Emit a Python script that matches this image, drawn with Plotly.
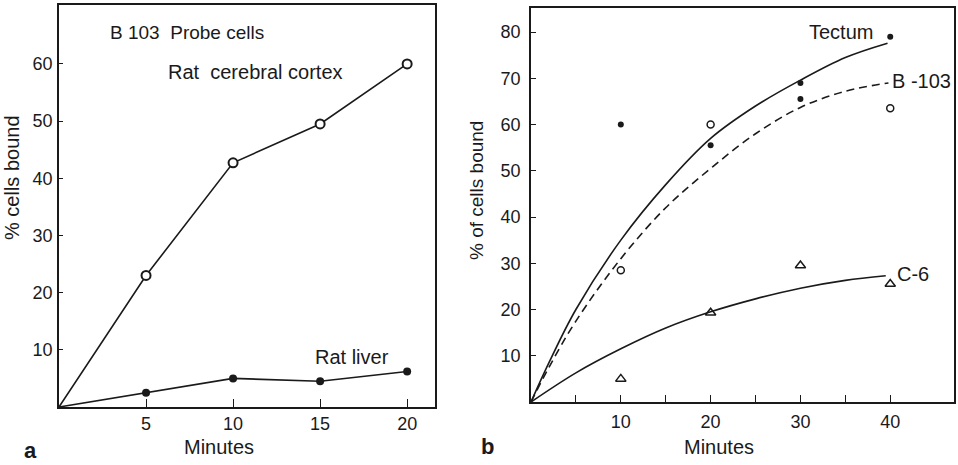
import plotly.graph_objects as go

# ---------------- Panel a data ----------------
a_minutes = [0, 5, 10, 15, 20]
a_cortex = [0, 23, 42.7, 49.5, 60]
a_liver = [0, 2.5, 5, 4.5, 6.2]
a_xticks = [5, 10, 15, 20]
a_yticks = [10, 20, 30, 40, 50, 60]

# ---------------- Panel b data ----------------
b_tectum_x = [10, 20, 30, 30, 40]
b_tectum_y = [60, 55.5, 69, 65.5, 79]
b_b103_x = [10, 20, 40]
b_b103_y = [28.5, 60, 63.5]
b_c6_x = [10, 20, 30, 40]
b_c6_y = [5, 19.3, 29.5, 25.5]

b_tectum_curve_x = [0, 2, 5, 10, 15, 20, 25, 30, 35, 39.7]
b_tectum_curve_y = [0, 8.5, 20, 35, 47, 57, 64, 69.6, 74.5, 77.6]
b_b103_curve_x = [0, 2, 5, 10, 15, 20, 25, 30, 35, 39.8]
b_b103_curve_y = [0, 7.5, 17.5, 31, 42, 50.5, 58, 63.7, 67.2, 69]
b_c6_curve_x = [0, 5, 10, 15, 20, 25, 30, 35, 39.5]
b_c6_curve_y = [0, 6.3, 11.5, 16, 19.5, 22.3, 24.6, 26.3, 27.3]

b_xticks = [5, 10, 15, 20, 25, 30, 35, 40]
b_xticktext = ["", "10", "", "20", "", "30", "", "40"]
b_yticks = [10, 20, 30, 40, 50, 60, 70, 80]

W, H = 958, 465
FONT = "Liberation Sans, Arial, sans-serif"
INK = "#1a1a1a"

def px(x):
    return x / W

def py(y):
    return 1 - y / H

fig = go.Figure()

# Panel a
fig.add_trace(go.Scatter(x=a_minutes, y=a_cortex, mode="lines",
                         line=dict(color=INK, width=1.6), xaxis="x", yaxis="y", showlegend=False))
fig.add_trace(go.Scatter(x=a_minutes[1:], y=a_cortex[1:], mode="markers",
                         marker=dict(symbol="circle", size=9, color="white",
                                     line=dict(color=INK, width=2)),
                         xaxis="x", yaxis="y", showlegend=False))
fig.add_trace(go.Scatter(x=a_minutes, y=a_liver, mode="lines",
                         line=dict(color=INK, width=1.6), xaxis="x", yaxis="y", showlegend=False))
fig.add_trace(go.Scatter(x=a_minutes[1:], y=a_liver[1:], mode="markers",
                         marker=dict(symbol="circle", size=8, color=INK),
                         xaxis="x", yaxis="y", showlegend=False))

# Panel b curves
fig.add_trace(go.Scatter(x=b_tectum_curve_x, y=b_tectum_curve_y, mode="lines",
                         line=dict(color=INK, width=1.6, shape="spline"),
                         xaxis="x2", yaxis="y2", showlegend=False))
fig.add_trace(go.Scatter(x=b_b103_curve_x, y=b_b103_curve_y, mode="lines",
                         line=dict(color=INK, width=1.6, shape="spline", dash="8px,5px"),
                         xaxis="x2", yaxis="y2", showlegend=False))
fig.add_trace(go.Scatter(x=b_c6_curve_x, y=b_c6_curve_y, mode="lines",
                         line=dict(color=INK, width=1.6, shape="spline"),
                         xaxis="x2", yaxis="y2", showlegend=False))
# Panel b points
fig.add_trace(go.Scatter(x=b_tectum_x, y=b_tectum_y, mode="markers",
                         marker=dict(symbol="circle", size=6, color=INK),
                         xaxis="x2", yaxis="y2", showlegend=False))
fig.add_trace(go.Scatter(x=b_b103_x, y=b_b103_y, mode="markers",
                         marker=dict(symbol="circle-open", size=7, color=INK, line=dict(width=1.5)),
                         xaxis="x2", yaxis="y2", showlegend=False))
fig.add_trace(go.Scatter(x=b_c6_x, y=b_c6_y, mode="markers",
                         marker=dict(symbol="triangle-up-open", size=9, color=INK, line=dict(width=1.5)),
                         xaxis="x2", yaxis="y2", showlegend=False))

axis_common = dict(showline=True, linecolor=INK, linewidth=1.5, mirror=True,
                   ticks="inside", tickcolor=INK, tickwidth=1.3,
                   showgrid=False, zeroline=False,
                   tickfont=dict(family=FONT, size=18, color=INK))

fig.update_layout(
    width=W, height=H,
    margin=dict(l=0, r=0, t=0, b=0),
    paper_bgcolor="white", plot_bgcolor="white",
    xaxis=dict(axis_common, domain=[px(59), px(435)], range=[0, 21.6],
               tickvals=a_xticks, ticklen=8, ticklabelstandoff=0, anchor="y"),
    yaxis=dict(axis_common, domain=[py(407), py(5)], range=[0, 70.3],
               tickvals=a_yticks, ticklen=4, ticklabelstandoff=1, anchor="x"),
    xaxis2=dict(axis_common, domain=[px(531), px(954)], range=[0, 47.1],
                tickvals=b_xticks, ticktext=b_xticktext, ticklen=7,
                ticklabelstandoff=3, anchor="y2"),
    yaxis2=dict(axis_common, domain=[py(402), py(8)], range=[0, 85.2],
                tickvals=b_yticks, ticklen=5, ticklabelstandoff=5, anchor="x2"),
)

def note(text, x, y, size=20, xanchor="left", angle=0, bold=False):
    fig.add_annotation(text=("<b>%s</b>" % text) if bold else text,
                       x=px(x), y=py(y), xref="paper", yref="paper",
                       xanchor=xanchor, yanchor="middle", showarrow=False,
                       textangle=angle,
                       font=dict(family=FONT, size=size, color=INK))

note("B 103  Probe cells", 108, 33, size=19)
note("Rat  cerebral cortex", 166, 72)
note("Rat liver", 313, 357)
note("Minutes", 219, 447, xanchor="center")
note("% cells bound", 12, 178, size=20, xanchor="center", angle=-90)
note("a", 30, 450, size=22, xanchor="center", bold=True)

note("Tectum", 807, 32)
note("B -103", 890, 81)
note("C-6", 895, 274)
note("Minutes", 719, 447, xanchor="center")
note("% of cells bound", 476, 191, size=19, xanchor="center", angle=-90)
note("b", 487, 446, size=22, xanchor="center", bold=True)

fig.write_html("out.html",
               config={"displayModeBar": False},
               post_script="document.body.style.margin='0';document.body.style.overflow='hidden';")
